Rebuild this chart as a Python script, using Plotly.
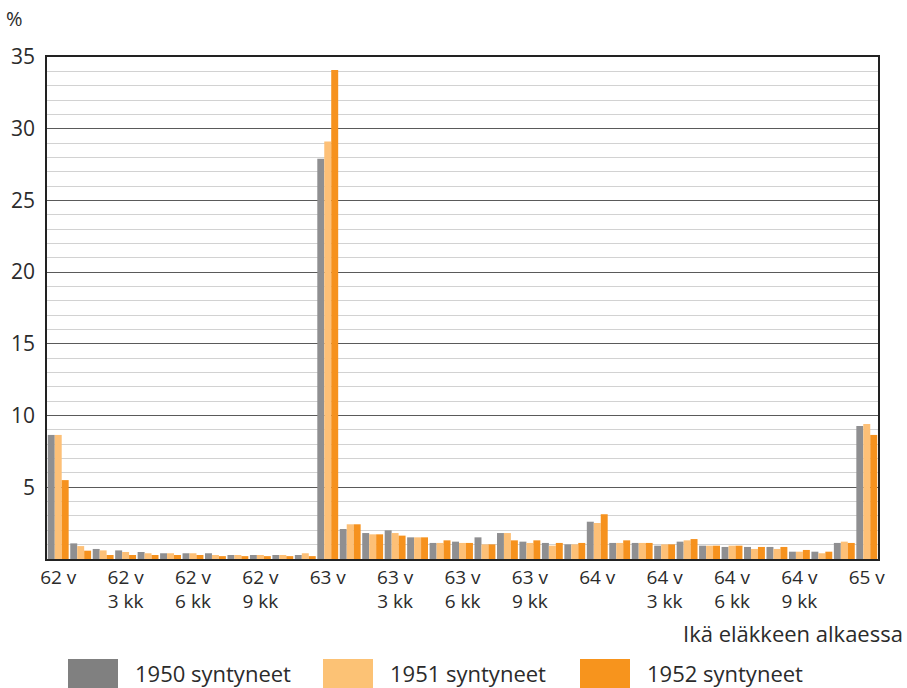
import plotly.graph_objects as go

# Categories: 62 v .. 65 v in monthly steps
categories = [f"{62 + i // 12} v {i % 12} kk" for i in range(37)]
tick_categories = categories[::3]
tick_labels = ["62 v", "62 v<br>3 kk", "62 v<br>6 kk", "62 v<br>9 kk",
               "63 v", "63 v<br>3 kk", "63 v<br>6 kk", "63 v<br>9 kk",
               "64 v", "64 v<br>3 kk", "64 v<br>6 kk", "64 v<br>9 kk",
               "65 v"]

series_names = ["1950 syntyneet", "1951 syntyneet", "1952 syntyneet"]

v1950 = [8.65, 1.09, 0.70, 0.60, 0.49, 0.40, 0.40, 0.40, 0.28, 0.28, 0.28, 0.28,
         27.9, 2.09, 1.81, 2.00, 1.51, 1.12, 1.21, 1.51, 1.81, 1.21, 1.12, 1.02,
         2.60, 1.12, 1.12, 0.93, 1.21, 0.93, 0.84, 0.84, 0.84, 0.51, 0.51, 1.12,
         9.27]
v1951 = [8.65, 0.90, 0.60, 0.49, 0.40, 0.40, 0.40, 0.28, 0.28, 0.28, 0.28, 0.40,
         29.1, 2.42, 1.72, 1.81, 1.51, 1.12, 1.12, 1.02, 1.81, 1.12, 0.93, 1.02,
         2.51, 1.12, 1.12, 1.02, 1.30, 0.93, 0.93, 0.70, 0.70, 0.51, 0.40, 1.21,
         9.41]
v1952 = [5.50, 0.58, 0.28, 0.28, 0.28, 0.28, 0.28, 0.20, 0.20, 0.20, 0.20, 0.20,
         34.1, 2.42, 1.72, 1.63, 1.51, 1.30, 1.12, 1.02, 1.30, 1.30, 1.12, 1.12,
         3.12, 1.30, 1.12, 1.02, 1.39, 0.93, 0.93, 0.84, 0.84, 0.63, 0.51, 1.12,
         8.65]
series_values = [v1950, v1951, v1952]

colors = ["#8f8f91", "#fdc077", "#f6921e"]
legend_colors = ["#808080", "#fcc275", "#f7941d"]

y_ticks = [5, 10, 15, 20, 25, 30, 35]

FONT = "Open Sans"
TXT = "#2b2b2b"

W, H = 907, 688
L, R, T, B = 47, 29, 57, 129
pw, ph = W - L - R, H - T - B


def px(x):
    return (x - L) / pw


def py(y):
    return (H - B - y) / ph


fig = go.Figure()
for name, vals, col in zip(series_names, series_values, colors):
    fig.add_trace(go.Bar(x=categories, y=vals, name=name,
                         marker=dict(color=col, line=dict(width=0)),
                         showlegend=False))

fig.update_layout(
    width=W, height=H,
    margin=dict(l=L, r=R, t=T, b=B, autoexpand=False),
    paper_bgcolor="white", plot_bgcolor="white",
    barmode="group", bargap=0.07, bargroupgap=0,
    font=dict(family=FONT, color=TXT),
)

fig.update_xaxes(
    type="category",
    tickmode="array", tickvals=tick_categories, ticktext=tick_labels,
    tickfont=dict(size=19, family=FONT, color=TXT),
    showline=True, linecolor="#222", linewidth=1.5, mirror=True,
    showgrid=False, ticks="", automargin=False,
)

fig.update_yaxes(
    range=[0, 35],
    tickmode="array", tickvals=y_ticks,
    tickfont=dict(size=21, family=FONT, color=TXT),
    showline=True, linecolor="#222", linewidth=1.5, mirror=True,
    showgrid=True, gridcolor="#5a5a5a", gridwidth=1,
    minor=dict(dtick=1, showgrid=True, gridcolor="#d2d2d2", gridwidth=1),
    ticks="", ticklabelstandoff=6, zeroline=False, automargin=False,
)

annotations = [
    dict(text="%", x=px(14), y=py(18), xref="paper", yref="paper",
         xanchor="center", yanchor="middle",
         showarrow=False, font=dict(size=20, family=FONT, color=TXT)),
    dict(text="Ikä eläkkeen alkaessa", x=px(905), y=py(633), xref="paper", yref="paper",
         xanchor="right", yanchor="middle",
         showarrow=False, font=dict(size=22, family=FONT, color=TXT)),
]

shapes = []
legend_x = [68, 323, 580]
for i, (name, col) in enumerate(zip(series_names, legend_colors)):
    x0 = legend_x[i]
    shapes.append(dict(type="rect", xref="paper", yref="paper",
                       x0=px(x0), x1=px(x0 + 50), y0=py(659), y1=py(688),
                       fillcolor=col, line=dict(width=0)))
    annotations.append(dict(text=name, x=px(x0 + 65), y=py(673),
                            xref="paper", yref="paper",
                            xanchor="left", yanchor="middle", showarrow=False,
                            font=dict(size=22, family=FONT, color=TXT)))

fig.update_layout(annotations=annotations, shapes=shapes)

fig.write_html(
    "out.html",
    config={"displayModeBar": False},
    post_script="document.body.style.margin='0';document.body.style.overflow='hidden';",
)
